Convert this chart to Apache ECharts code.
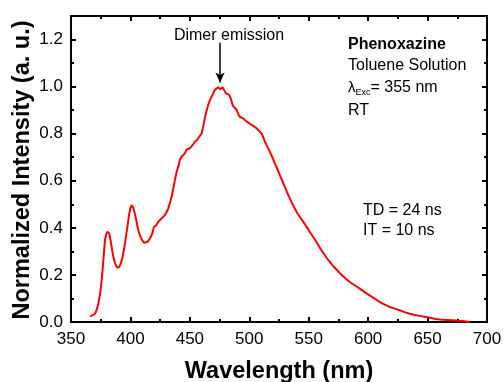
<!DOCTYPE html>
<html>
<head>
<meta charset="utf-8">
<script src="https://cdn.jsdelivr.net/npm/echarts@6/dist/echarts.min.js"></script>
<style>
html,body{margin:0;padding:0;background:#ffffff;}
#c{width:503px;height:382px;}
</style>
</head>
<body>
<div id="c"></div>
<script>
// Wavelength (nm)
const wavelength = [366,368,370.2,371.5,373,374.5,375.8,377.2,378.6,379.6,380.5,381.4,382.2,383.5,385.6,387.2,388.9,390.6,392,393.4,394.8,396.2,397.6,399,400,401,402.4,403.8,405.2,406.6,408.4,410.2,411.6,413,414.7,416.4,418.1,419.8,421.6,423.4,424.8,426.2,427.6,429,430.4,431.8,433.2,434.6,436,437.4,438.8,440.2,441.6,443,444.4,445.8,447.2,448.6,450,451.4,452.8,454.2,456,457.9,459.8,461.2,462.6,464,465.4,466.8,468.2,469.6,471,472.4,473.8,474.8,475.8,476.7,477.5,478.9,480.3,481.7,483.1,484.5,485.9,487.6,489.3,490.6,492,493.5,494.9,497,499.1,501.2,503.3,505.4,507.5,508.9,510.3,511.7,513.1,515.2,517.3,519.4,521.5,523.6,525.7,527.8,529.9,532,534.1,536.2,538.3,540.4,542.5,544.6,546.7,548.8,550.9,553.7,556.5,559.3,562.1,564.9,567.7,570.5,573.3,576.1,578.9,581.7,584.5,588.7,592.9,597.1,601.3,605.5,609.7,613.9,618.1,622.3,626.5,630.7,635,639.2,643.4,647.6,651.8,656,660.2,665.8,671.4,675.6,679.8,682.6,685.4];
// Normalized intensity (a. u.)
const intensity = [0.024,0.028,0.035,0.05,0.078,0.12,0.177,0.26,0.35,0.372,0.383,0.382,0.376,0.34,0.277,0.248,0.23,0.234,0.25,0.277,0.315,0.362,0.41,0.46,0.485,0.496,0.485,0.46,0.425,0.39,0.362,0.345,0.336,0.333,0.342,0.355,0.372,0.404,0.41,0.426,0.432,0.44,0.438,0.454,0.466,0.482,0.505,0.532,0.565,0.603,0.635,0.66,0.688,0.702,0.71,0.716,0.732,0.73,0.738,0.745,0.755,0.766,0.772,0.787,0.8,0.83,0.865,0.895,0.922,0.94,0.957,0.97,0.986,0.993,0.997,0.99,0.989,0.996,0.997,0.985,0.972,0.975,0.965,0.948,0.922,0.91,0.901,0.885,0.872,0.868,0.865,0.855,0.847,0.84,0.833,0.826,0.816,0.81,0.801,0.785,0.766,0.745,0.723,0.7,0.674,0.65,0.624,0.6,0.574,0.548,0.525,0.502,0.482,0.462,0.447,0.432,0.416,0.4,0.383,0.362,0.34,0.316,0.294,0.274,0.255,0.238,0.223,0.208,0.194,0.182,0.17,0.156,0.142,0.127,0.113,0.099,0.085,0.074,0.064,0.057,0.05,0.042,0.035,0.03,0.026,0.022,0.018,0.014,0.011,0.009,0.007,0.005,0.004,0.002,0.0];
const xTicks = [350,400,450,500,550,600,650,700];
const yTicks = [0.0,0.2,0.4,0.6,0.8,1.0,1.2];
const arrowX = [475.4,475.4];
const arrowY = [1.186,1.018];
const infoLines = ['Phenoxazine','Toluene Solution','λExc= 355 nm','RT'];
const timeLines = ['TD = 24 ns','IT = 10 ns'];
const yTitle = 'Normalized Intensity (a. u.)';
const xTitle = 'Wavelength (nm)';

const FONT = 'Liberation Sans, Arial, sans-serif';
const chart = echarts.init(document.getElementById('c'), null, {renderer:'canvas'});
const data = wavelength.map((w,i)=>[w,intensity[i]]);

const G = {left:71, right:16, top:16, bottom:60, containLabel:false, outerBoundsMode:'none'};
const tickStyle = {color:'#000', width:2};

function xAx(gridIndex, pos, showLabel, showLine){
  return {
    type:'value', gridIndex:gridIndex, position:pos, min:xTicks[0], max:xTicks[xTicks.length-1], interval:50,
    axisLine:{show:showLine, onZero:false, lineStyle:{color:'#000', width:2}},
    axisTick:{show:showLine, inside:true, length:5, lineStyle:tickStyle},
    minorTick:{show:showLine, splitNumber:2, length:3, lineStyle:tickStyle},
    splitLine:{show:false}, minorSplitLine:{show:false},
    axisLabel:{show:showLabel, color:'#000', fontSize:17, fontFamily:FONT, margin:9},
    name: showLabel ? xTitle : '',
    nameLocation:'middle', nameGap:38,
    nameTextStyle:{color:'#000', fontSize:23.5, fontWeight:'bold', fontFamily:FONT}
  };
}
function yAx(gridIndex, pos, interval, tickLen, showLabel){
  return {
    type:'value', gridIndex:gridIndex, position:pos, min:0, max:1.3, interval:interval,
    axisLine:{show:true, onZero:false, lineStyle:{color:'#000', width:2}},
    axisTick:{show:true, inside:true, length:tickLen, lineStyle:tickStyle},
    splitLine:{show:false}, minorSplitLine:{show:false},
    axisLabel:{show:showLabel, color:'#000', fontSize:17, fontFamily:FONT, margin:8, showMaxLabel:false,
      formatter:(v)=>v.toFixed(1)}
  };
}

const texts = [];
texts.push({type:'text', x:23, y:170, rotation:Math.PI/2, style:{text:yTitle, font:'bold 23.5px '+FONT, fill:'#000', textAlign:'center', textVerticalAlign:'middle'}});
texts.push({type:'text', x:229, y:36, style:{text:'Dimer emission', font:'16px '+FONT, fill:'#000', textAlign:'center', textVerticalAlign:'middle'}});
texts.push({type:'text', x:348, y:45, style:{text:infoLines[0], font:'bold 16px '+FONT, fill:'#000', textAlign:'left', textVerticalAlign:'middle'}});
texts.push({type:'text', x:348, y:66, style:{text:infoLines[1], font:'16px '+FONT, fill:'#000', textAlign:'left', textVerticalAlign:'middle'}});
texts.push({type:'text', x:348, y:88, style:{
  text:'{l|λ}{s|Exc}{n|= 355 nm}', textAlign:'left', textVerticalAlign:'middle',
  rich:{
    l:{font:'15px '+FONT, fill:'#000', verticalAlign:'middle'},
    s:{font:'9px '+FONT, fill:'#000', padding:[10,0,0,0], verticalAlign:'middle'},
    n:{font:'16px '+FONT, fill:'#000', verticalAlign:'middle'}
  }}});
texts.push({type:'text', x:348, y:111, style:{text:infoLines[3], font:'16px '+FONT, fill:'#000', textAlign:'left', textVerticalAlign:'middle'}});
texts.push({type:'text', x:363, y:211, style:{text:timeLines[0], font:'16px '+FONT, fill:'#000', textAlign:'left', textVerticalAlign:'middle'}});
texts.push({type:'text', x:363, y:231, style:{text:timeLines[1], font:'16px '+FONT, fill:'#000', textAlign:'left', textVerticalAlign:'middle'}});

// invisible companion series so every frame axis is rendered
function ghost(xi, yi){
  return {type:'line', data:data, xAxisIndex:xi, yAxisIndex:yi, showSymbol:false, symbol:'none', silent:true,
    lineStyle:{opacity:0, width:0}, itemStyle:{opacity:0}, z:0};
}

chart.setOption({
  backgroundColor:'#ffffff',
  animation:false,
  grid:[Object.assign({}, G), Object.assign({}, G)],
  xAxis:[xAx(0,'bottom', true, true), xAx(0,'top', false, true), xAx(1,'bottom', false, false)],
  yAxis:[
    yAx(0,'left', 0.2, 5, true),
    yAx(0,'right', 0.2, 5, false),
    yAx(1,'left', 0.1, 3, false),
    yAx(1,'right', 0.1, 3, false)
  ],
  series:[
    ghost(1,1), ghost(2,2), ghost(2,3),
    {
    type:'line', data:data, xAxisIndex:0, yAxisIndex:0,
    showSymbol:false, symbol:'none', z:5,
    lineStyle:{color:'#ff0000', width:2}, itemStyle:{color:'#ff0000'},
    markLine:{
      silent:true, symbol:['none','arrow'], symbolSize:[7,10],
      label:{show:false},
      lineStyle:{color:'#000', width:1.5, type:'solid'},
      data:[[{coord:[arrowX[0],arrowY[0]]},{coord:[arrowX[1],arrowY[1]]}]]
    }
  }],
  graphic:texts
});
</script>
</body>
</html>
